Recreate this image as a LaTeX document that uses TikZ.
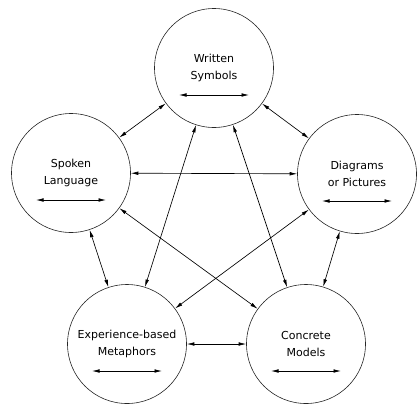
\documentclass[tikz,border=0pt]{standalone}
\usepackage{fontspec}
\setmainfont{DejaVu Sans}
\usetikzlibrary{arrows.meta}
\tikzset{
  mode/.style={draw=black!85, line width=0.6pt, circle, minimum size=119pt, inner sep=0pt,
    align=center, font=\fontsize{11}{17}\selectfont},
  link/.style={{Latex[length=7.5pt,width=3.6pt]}-{Latex[length=7.5pt,width=3.6pt]}, line width=0.65pt},
}
\begin{document}
\begin{tikzpicture}[x=1pt,y=-1pt]
\useasboundingbox (0,0) rectangle (417,407);
\node[mode] (written) at (214,68) {Written\\Symbols};
\node[mode] (spoken) at (71,173) {Spoken\\Language};
\node[mode] (diagrams) at (357,174) {Diagrams\\or Pictures};
\node[mode] (experience) at (127,344) {Experience-based\\Metaphors};
\node[mode] (concrete) at (306,344) {Concrete\\Models};
% connections between every pair
\draw[link] (written) -- (spoken);
\draw[link] (written) -- (diagrams);
\draw[link] (written) -- (experience);
\draw[link] (written) -- (concrete);
\draw[link] (spoken) -- (diagrams);
\draw[link] (spoken) -- (experience);
\draw[link] (spoken) -- (concrete);
\draw[link] (diagrams) -- (experience);
\draw[link] (diagrams) -- (concrete);
\draw[link] (experience) -- (concrete);
% arrows inside the circles
\foreach \n in {written,spoken,diagrams,experience,concrete}
  \draw[link] ([shift={(-35,27)}]\n.center) -- ([shift={(35,27)}]\n.center);
\end{tikzpicture}
\end{document}
